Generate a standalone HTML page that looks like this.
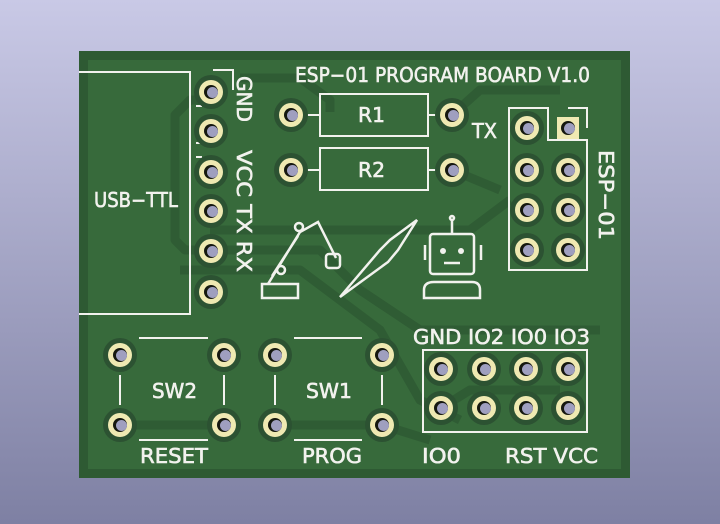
<!DOCTYPE html>
<html><head><meta charset="utf-8"><style>
html,body{margin:0;padding:0;width:720px;height:524px;overflow:hidden}
svg{display:block}
text{font-family:"DejaVu Sans","Liberation Sans",sans-serif;fill:#f2f2ee;stroke:#f2f2ee;stroke-width:0.6}
</style></head><body>
<svg width="720" height="524" viewBox="0 0 720 524" xmlns="http://www.w3.org/2000/svg">
<defs>
<linearGradient id="bg" x1="0" y1="0" x2="0" y2="1">
<stop offset="0" stop-color="#c9c9e6"/><stop offset="1" stop-color="#7e80a3"/></linearGradient>
<g id="pad"><circle r="17" fill="#2c5232"/><circle r="12" fill="#efe9b2"/><circle r="7" fill="#15180f"/><circle cx="1.5" cy="0.5" r="5.5" fill="#9f9fbf"/></g>
</defs>
<rect width="720" height="524" fill="url(#bg)"/>
<rect x="79" y="51" width="551" height="427" fill="#2e5a33"/>
<rect x="88" y="60" width="533" height="409" fill="#376a3b"/>
<g fill="none" stroke="#2f5c34" stroke-width="9" stroke-linejoin="round">
<path d="M240 78 H300 L330 100 V112"/>
<path d="M200 100 H190 L175 115 V240 L185 250 H320 L360 290 L420 330 H600"/>
<path d="M210 230 H470 L510 200"/>
<path d="M180 270 H300 L380 330 L420 400 L460 420"/>
<path d="M120 425 H224"/><path d="M275 425 H382 L430 440"/>
<path d="M452 115 L480 90 H560"/><path d="M452 170 L500 190"/>
<path d="M441 408 L470 390 H560"/>
</g>
<g stroke="#f2f2ee" stroke-width="2" fill="none">
<path d="M79 72 H190 V314 H79"/>
<path d="M213 70 H233 V90"/>
<rect x="320" y="94" width="108" height="42"/><rect x="320" y="148" width="108" height="42"/>
<path d="M304 115 H320 M428 115 H438 M304 170 H320 M428 170 H438"/>
<path d="M509 108 H548 V140 H587 V270 H509 Z"/><path d="M568 108 H587 V128"/>
<rect x="423" y="350" width="164" height="82"/>
<path d="M139 338 H208 M139 440 H208 M120 375 V405 M224 375 V405"/>
<path d="M294 338 H362 M294 440 H362 M275 375 V405 M382 375 V405"/>
<path d="M196 96 H202 M196 106 H202 M196 143 H202 M196 157 H202"/>
</g>
<g fill="none" stroke="#f2f2ee" stroke-width="2.5">
<rect x="262" y="284" width="36" height="14"/><path d="M268 284 L300 232 L318 222 L336 258 M272 276 L298 236"/><circle cx="299" cy="227" r="4"/><circle cx="281" cy="270" r="4"/><rect x="326" y="254" width="14" height="14" rx="3"/>
<path d="M340 297 L380 250 L390 240 L417 220 L398 250 L388 262 Z"/>
<rect x="430" y="234" width="44" height="40" rx="3"/><path d="M452 234 V220"/><circle cx="452" cy="218" r="2"/>
<path d="M424 298 V290 Q424 282 434 282 H472 Q480 282 480 290 V298 Z"/>
<path d="M425 245 V260 M481 245 V260"/><path d="M444 263 H460"/>
</g>
<circle cx="443" cy="251" r="3" fill="#f2f2ee"/><circle cx="461" cy="251" r="3" fill="#f2f2ee"/>
<g>
<use href="#pad" x="211" y="92"/><use href="#pad" x="211" y="131"/><use href="#pad" x="211" y="172"/><use href="#pad" x="211" y="211"/><use href="#pad" x="211" y="251"/><use href="#pad" x="211" y="292"/>
<use href="#pad" x="291" y="115"/><use href="#pad" x="452" y="115"/><use href="#pad" x="291" y="170"/><use href="#pad" x="452" y="170"/>
<use href="#pad" x="527" y="128"/>
<use href="#pad" x="527" y="170"/><use href="#pad" x="568" y="170"/><use href="#pad" x="527" y="210"/><use href="#pad" x="568" y="210"/><use href="#pad" x="527" y="250"/><use href="#pad" x="568" y="250"/>
<use href="#pad" x="441" y="369"/><use href="#pad" x="484" y="369"/><use href="#pad" x="526" y="369"/><use href="#pad" x="568" y="369"/>
<use href="#pad" x="441" y="408"/><use href="#pad" x="484" y="408"/><use href="#pad" x="526" y="408"/><use href="#pad" x="568" y="408"/>
<use href="#pad" x="120" y="355"/><use href="#pad" x="224" y="355"/><use href="#pad" x="120" y="425"/><use href="#pad" x="224" y="425"/>
<use href="#pad" x="275" y="355"/><use href="#pad" x="382" y="355"/><use href="#pad" x="275" y="425"/><use href="#pad" x="382" y="425"/>
</g>
<rect x="557" y="117" width="22" height="22" fill="#efe9b2"/><circle cx="568" cy="128" r="7" fill="#15180f"/><circle cx="569.5" cy="128.5" r="5.5" fill="#9f9fbf"/>
<g font-size="20">
<text x="295" y="82" textLength="295" lengthAdjust="spacingAndGlyphs">ESP−01 PROGRAM BOARD V1.0</text>
<text x="358" y="122" textLength="27" lengthAdjust="spacingAndGlyphs">R1</text><text x="358" y="177" textLength="27" lengthAdjust="spacingAndGlyphs">R2</text>
<text x="472" y="138" textLength="25" lengthAdjust="spacingAndGlyphs">TX</text>
<text x="94" y="207" textLength="84" lengthAdjust="spacingAndGlyphs">USB−TTL</text>
<text x="152" y="398" textLength="45" lengthAdjust="spacingAndGlyphs">SW2</text><text x="306" y="398" textLength="46" lengthAdjust="spacingAndGlyphs">SW1</text>
<text x="140" y="463" textLength="68" lengthAdjust="spacingAndGlyphs">RESET</text><text x="302" y="463" textLength="60" lengthAdjust="spacingAndGlyphs">PROG</text>
<text x="413" y="344" textLength="177" lengthAdjust="spacingAndGlyphs">GND IO2 IO0 IO3</text>
<text x="422" y="463" textLength="39" lengthAdjust="spacingAndGlyphs">IO0</text><text x="505" y="463" textLength="93" lengthAdjust="spacingAndGlyphs">RST VCC</text>
<text transform="translate(237,76) rotate(90)" textLength="46" lengthAdjust="spacingAndGlyphs">GND</text>
<text transform="translate(237,150) rotate(90)" textLength="122" lengthAdjust="spacingAndGlyphs">VCC TX RX</text>
<text transform="translate(599,150) rotate(90)" textLength="90" lengthAdjust="spacingAndGlyphs">ESP−01</text>
</g>
</svg>
</body></html>
